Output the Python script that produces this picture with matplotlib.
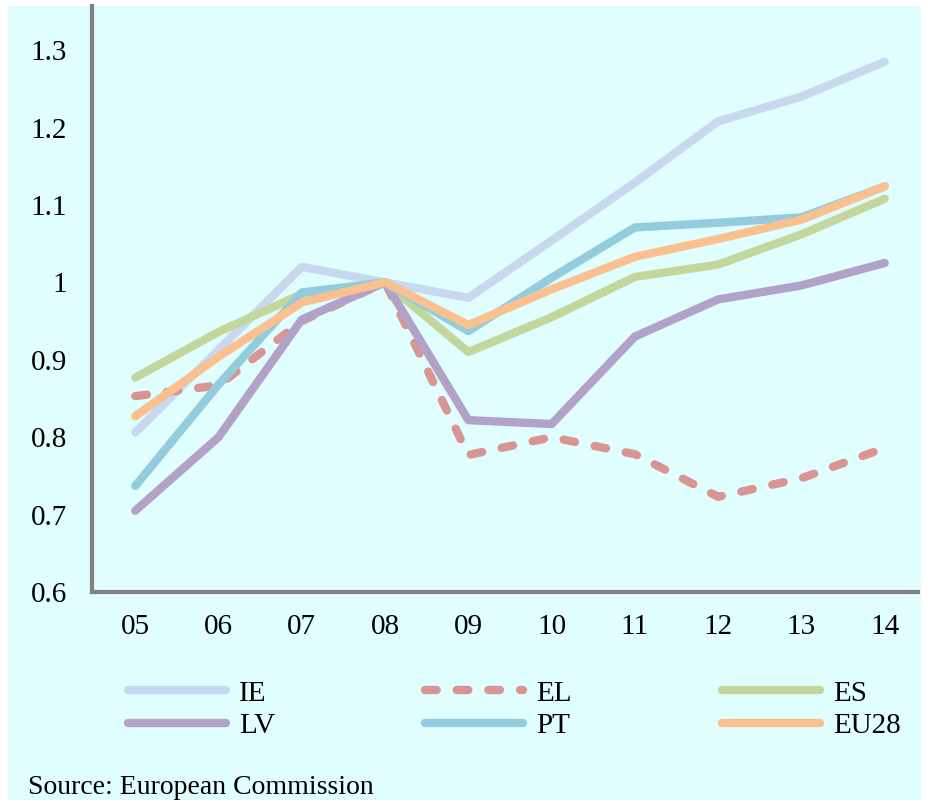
import matplotlib.pyplot as plt
from matplotlib.patches import Rectangle

# years on the x axis (2005..2014)
years = ['05', '06', '07', '08', '09', '10', '11', '12', '13', '14']

# index, 2008 = 1
ie = [0.806, 0.913, 1.020, 1.000, 0.980, 1.054, 1.129, 1.208, 1.240, 1.285]
el = [0.853, 0.867, 0.950, 1.000, 0.777, 0.800, 0.778, 0.723, 0.747, 0.786]
es = [0.877, 0.936, 0.985, 1.000, 0.910, 0.955, 1.007, 1.023, 1.062, 1.108]
lv = [0.705, 0.800, 0.952, 1.000, 0.822, 0.817, 0.930, 0.978, 0.996, 1.025]
pt = [0.737, 0.868, 0.987, 1.000, 0.937, 1.006, 1.071, 1.077, 1.084, 1.124]
eu28 = [0.827, 0.904, 0.974, 1.000, 0.945, 0.991, 1.033, 1.056, 1.081, 1.124]

plt.rcParams['font.family'] = ['Liberation Serif', 'DejaVu Serif']

bg = '#e1fefe'
fig = plt.figure(figsize=(9.25, 8), dpi=100)
fig.patch.set_facecolor('white')
fig.add_artist(Rectangle((8 / 925, 0), 1 - 12 / 925, 1 - 6 / 800,
                         transform=fig.transFigure, facecolor=bg,
                         edgecolor='none', zorder=-10))

ax = fig.add_axes([92 / 925, 1 - 592 / 800, (918 - 92) / 925, (592 - 6) / 800])
ax.set_facecolor(bg)

x = range(len(years))
lw = 6
ax.plot(x, ie, color='#c8d8ef', lw=lw, solid_capstyle='round', solid_joinstyle='round', label='IE')
l_el, = ax.plot(x, el, color='#d99594', lw=lw, dash_capstyle='round', label='EL')
l_el.set_dashes([1.4, 2.4])
ax.plot(x, es, color='#c3d69b', lw=lw, solid_capstyle='round', solid_joinstyle='round', label='ES')
ax.plot(x, lv, color='#b3a2c7', lw=lw, solid_capstyle='round', solid_joinstyle='round', label='LV')
ax.plot(x, pt, color='#93cddd', lw=lw, solid_capstyle='round', solid_joinstyle='round', label='PT')
ax.plot(x, eu28, color='#fac090', lw=lw, solid_capstyle='round', solid_joinstyle='round', label='EU28')

ax.set_xlim(-0.52, 9.4)
ax.set_ylim(0.6, 1.357)
ax.set_xticks(list(x))
ax.set_xticklabels(years)
ax.set_yticks([0.6, 0.7, 0.8, 0.9, 1.0, 1.1, 1.2, 1.3])
ax.set_yticklabels(['0.6', '0.7', '0.8', '0.9', '1', '1.1', '1.2', '1.3'])
ax.tick_params(length=0, labelsize=21)
ax.tick_params(axis='y', pad=18)
ax.tick_params(axis='x', pad=16)

for s in ['top', 'right']:
    ax.spines[s].set_visible(False)
for s in ['left', 'bottom']:
    ax.spines[s].set_color('#808080')
    ax.spines[s].set_linewidth(3)

# legend: rows IE EL ES / LV PT EU28
h, l = ax.get_legend_handles_labels()
order = [0, 3, 1, 4, 2, 5]
fig.legend([h[i] for i in order], [l[i] for i in order], ncol=3,
           loc='upper left', bbox_to_anchor=(102 / 925, 1 - 654 / 800),
           frameon=False, fontsize=21, handlelength=3.35, handletextpad=0.45,
           columnspacing=5.15, labelspacing=0.2)

fig.text(28 / 925, 1 - 787 / 800, 'Source: European Commission',
         fontsize=20, va='center', ha='left')

fig.savefig('out.png', dpi=100, facecolor=fig.get_facecolor())
